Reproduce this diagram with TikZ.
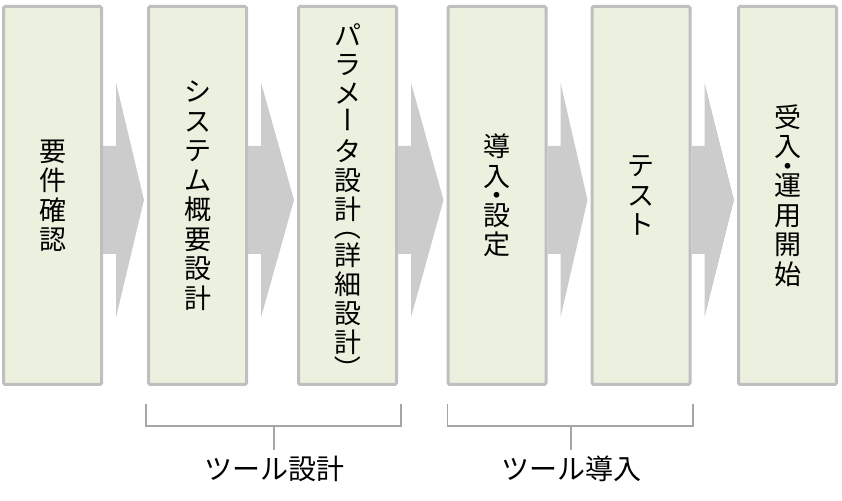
\documentclass[tikz,border=0pt]{standalone}
\usepackage{fontspec}
\setmainfont{Noto Sans CJK JP}
\usetikzlibrary{calc,backgrounds}
\definecolor{boxfill}{HTML}{EBF1DE}
\definecolor{boxline}{HTML}{BFBFBF}
\definecolor{arrowfill}{HTML}{CCCCCC}
\definecolor{brk}{HTML}{A6A6A6}
\tikzset{
  stage/.style={draw=boxline, line width=3pt, fill=boxfill,
    minimum width=98pt, minimum height=378pt, inner sep=0pt,
    rounded corners=1.5pt, align=center,
    font=\fontsize{27}{29.5}\selectfont, text=black},
  vtext/.style={inner sep=0pt, align=center, text=black,
    font=\fontsize{27}{29}\selectfont},
  vglyph/.style={rotate=-90, inner sep=0pt, text=black,
    text height=23.76pt, text depth=3.24pt, text width=27pt, align=center,
    font=\fontsize{27}{29}\selectfont},
  flow/.style={fill=arrowfill, draw=none},
  bracket/.style={draw=brk, line width=1.5pt},
  grouplabel/.style={font=\fontsize{28}{30}\selectfont, inner sep=0pt, text=black}
}
\begin{document}
\begin{tikzpicture}[x=1pt,y=1pt]
\useasboundingbox (0,0) rectangle (842,500);
\node[stage] (b1) at (52.5,304.5) {要\\件\\確\\認};
\node[stage] (b2) at (197.5,304.5) {シ\\ス\\テ\\ム\\概\\要\\設\\計};
\node[stage] (b3) at (347.5,304.5) {};
\node[vtext, anchor=north] (t3) at (347.5,477) {パ\\ラ\\メ\\[29pt]タ\\設\\計\\[17pt]詳\\細\\設\\計};
\node[vglyph] (r1) at (347.5,380) {ー};
\node[vglyph] (r2) at (347.5,273) {（};
\node[vglyph] (r3) at (347.5,131) {）};
\node[stage] (b4) at (497,304.5) {導\\入\\[-10pt]・\\[-10pt]設\\定};
\node[stage] (b5) at (641,304.5) {テ\\ス\\ト};
\node[stage] (b6) at (787.5,304.5) {受\\入\\[-10pt]・\\[-10pt]運\\用\\開\\始};
\begin{scope}[on background layer]
\foreach \a/\b in {b1/b2,b2/b3,b3/b4,b4/b5,b5/b6}{
  \path[flow] let \p1=(\a.east), \p2=(\b.west) in
    (\x1,246pt) -- (\x1+13pt,246pt) -- (\x1+13pt,182.5pt) -- (\x2-3pt,300pt)
    -- (\x1+13pt,417.5pt) -- (\x1+13pt,354pt) -- (\x1,354pt) -- cycle;
}
\end{scope}
% brackets
\draw[bracket] let \p1=(b2.west), \p2=(b3.east) in
  (\x1-1pt,96pt) -- (\x1-1pt,74pt) -- (\x2+3pt,74pt) -- (\x2+3pt,96pt);
\draw[bracket] let \p1=(b4.west), \p2=(b5.east) in
  (\x1+1pt,96pt) -- (\x1+1pt,74pt) -- (\x2+1.5pt,74pt) -- (\x2+1.5pt,96pt);
\coordinate (m1) at (274,74);
\coordinate (m2) at (571,74);
\node[grouplabel] (g1) at (274,31) {ツール設計};
\node[grouplabel] (g2) at (571,31) {ツール導入};
\draw[bracket] (m1) -- ($(m1)+(0,-24)$);
\draw[bracket] (m2) -- ($(m2)+(0,-24)$);
\end{tikzpicture}
\end{document}
